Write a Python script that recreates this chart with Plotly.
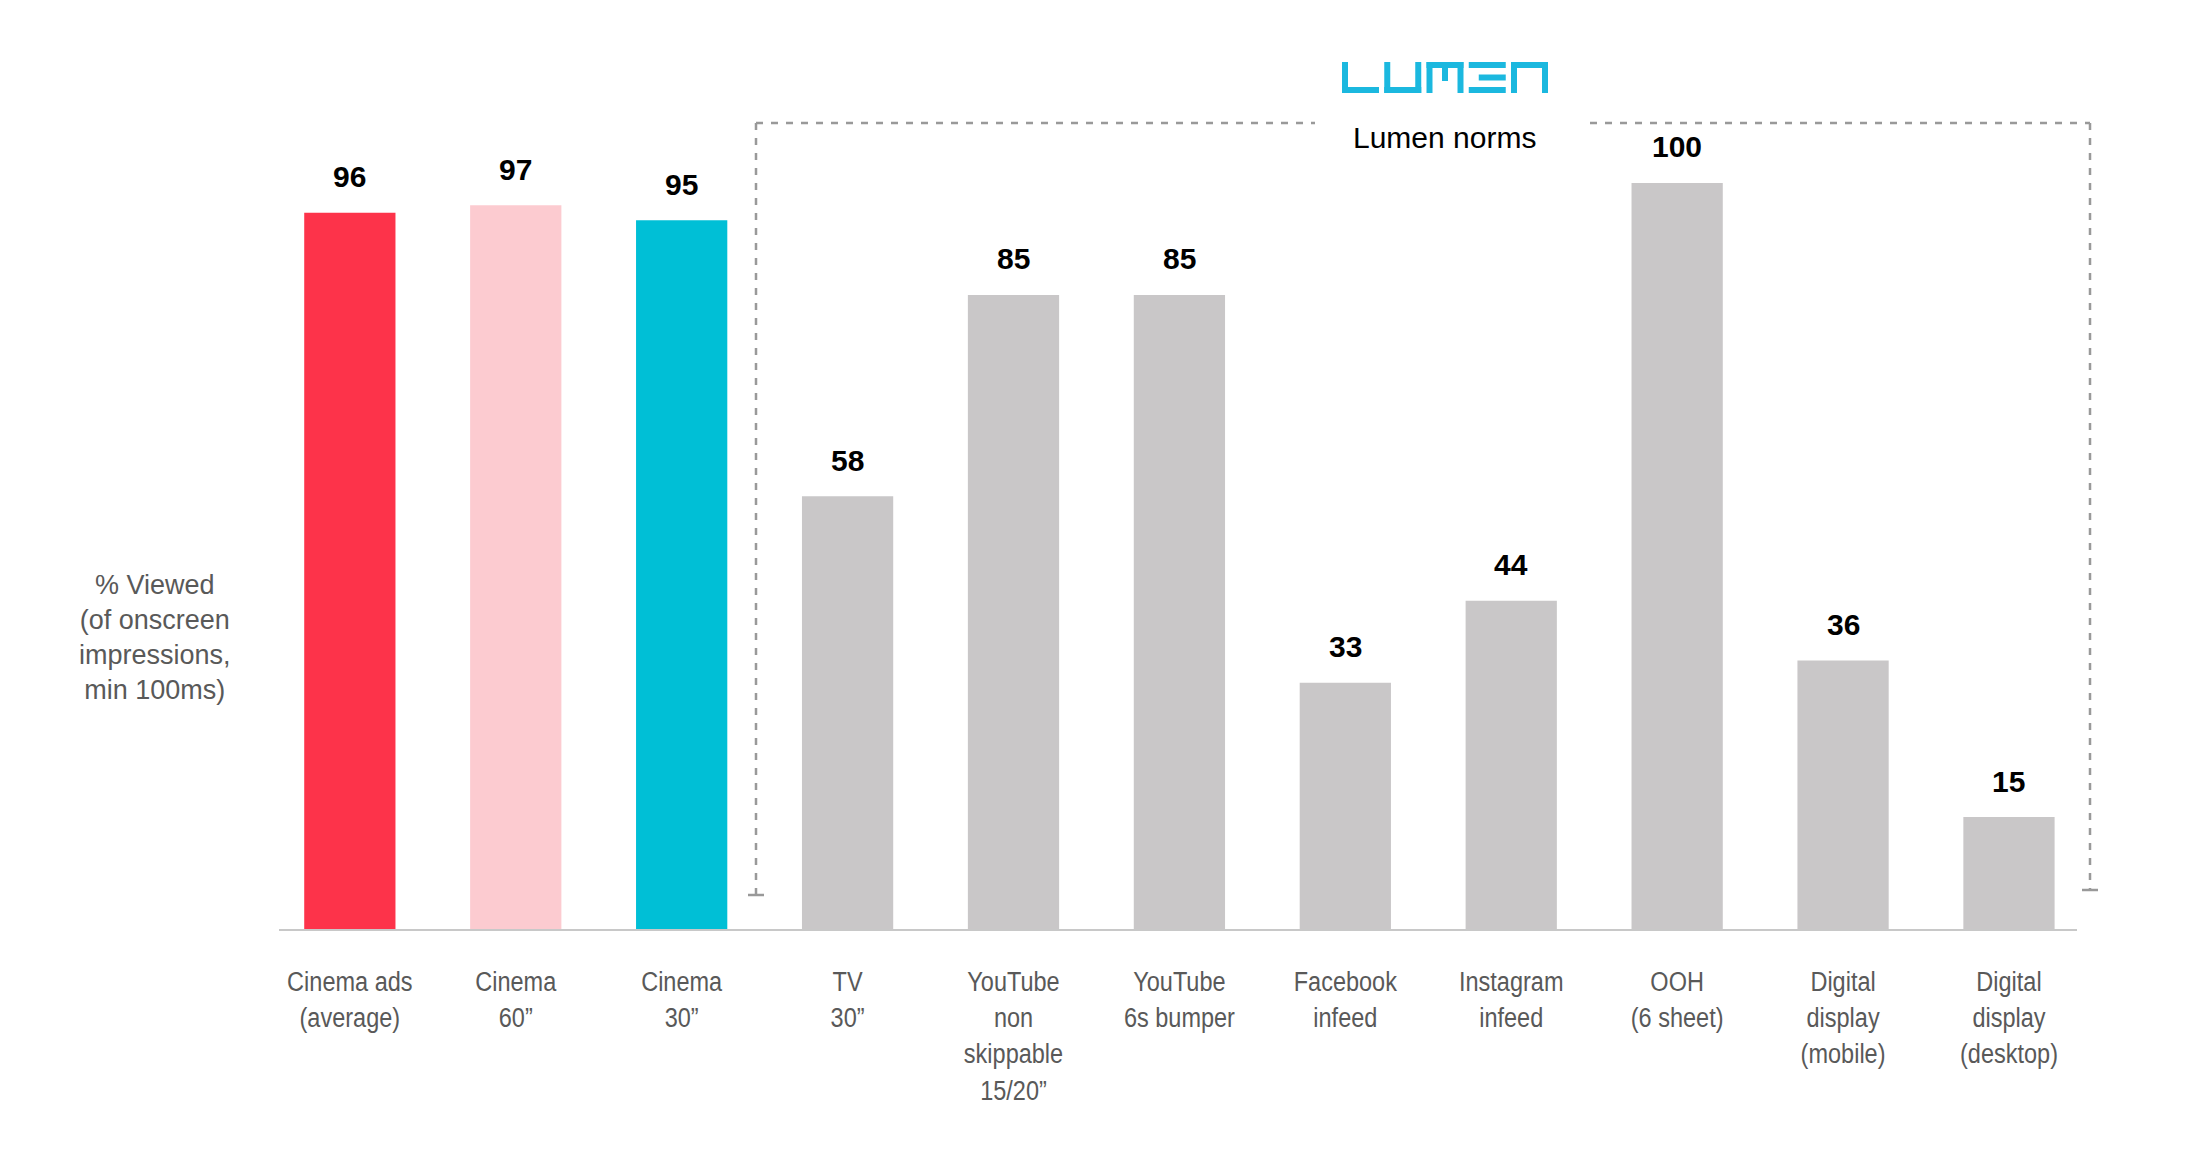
import plotly.graph_objects as go

# ---------------- data ----------------
categories = [
    "Cinema ads<br>(average)", "Cinema<br>60\u201d", "Cinema<br>30\u201d", "TV<br>30\u201d",
    "YouTube<br>non<br>skippable<br>15/20\u201d", "YouTube<br>6s bumper", "Facebook<br>infeed",
    "Instagram<br>infeed", "OOH<br>(6 sheet)", "Digital<br>display<br>(mobile)",
    "Digital<br>display<br>(desktop)",
]
values = [96, 97, 95, 58, 85, 85, 33, 44, 100, 36, 15]
bar_colors = ["#FD334A", "#FCCBD0", "#00BFD6"] + ["#C9C7C8"] * 8
y_title = "% Viewed<br>(of onscreen<br>impressions,<br>min 100ms)"
bracket_label = "Lumen norms"

# ---------------- geometry helpers (pixels -> paper) ----------------
W, H = 2204, 1160
L_PX, R_PX, T_PX, B_PX = 279, 2077, 108, 929


def px(x):
    return (x - L_PX) / (R_PX - L_PX)


def py(y):
    return (B_PX - y) / (B_PX - T_PX)


NARROW = "Liberation Sans Narrow, Arial Narrow, Liberation Sans, Arial, sans-serif"
REG = "Liberation Sans, Arial, sans-serif"

fig = go.Figure()
fig.add_trace(go.Bar(
    x=categories, y=values, marker=dict(color=bar_colors, line=dict(width=0)),
    width=0.55, hoverinfo="x+y", showlegend=False,
))

annotations = []
for c, v in zip(categories, values):
    annotations.append(dict(
        x=c, y=v, xref="x", yref="y", text=f"<b>{v}</b>", showarrow=False,
        yanchor="middle", yshift=36, font=dict(family=REG, size=30, color="#000000"),
    ))

annotations.append(dict(
    x=px(155), y=py(637), xref="paper", yref="paper", text=y_title, showarrow=False,
    xanchor="center", yanchor="middle", align="center",
    font=dict(family=REG, size=27, color="#595959"),
))
annotations.append(dict(
    x=px(1444), y=py(137), xref="paper", yref="paper", text=bracket_label, showarrow=False,
    xanchor="center", yanchor="middle", font=dict(family=REG, size=30, color="#000000"),
))

shapes = []
dash_line = dict(color="#999999", width=2.5, dash="7px,8px")
solid_line = dict(color="#999999", width=2.5)


def seg(x0, y0, x1, y1, line):
    shapes.append(dict(type="line", xref="paper", yref="paper",
                       x0=px(x0), y0=py(y0), x1=px(x1), y1=py(y1), line=line))


# bracket around Lumen norms
seg(756, 123, 1315, 123, dash_line)
seg(1590, 123, 2090, 123, dash_line)
seg(756, 123, 756, 895, dash_line)
seg(2090, 123, 2090, 890, dash_line)
seg(748, 895, 764, 895, solid_line)
seg(2082, 890, 2098, 890, solid_line)

# LUMEN logo drawn as strokes
logo_color = "#1BB8DF"
letters = {
    "L": [(0, 0, 6, 31), (0, 25, 37, 31)],
    "U": [(0, 0, 6, 31), (0, 25, 37, 31), (31, 0, 37, 31)],
    "M": [(0, 0, 37, 6), (0, 0, 6, 31), (31, 0, 37, 31), (15.5, 0, 21.5, 19)],
    "E": [(0, 0, 37, 6), (10, 12.5, 37, 18.5), (0, 25, 37, 31)],
    "N": [(0, 0, 37, 6), (0, 0, 6, 31), (31, 0, 37, 31)],
}
lx0, ly0 = 1342, 62
for i, ch in enumerate("LUMEN"):
    ox = lx0 + i * 42.25
    for (a, b, c, d) in letters[ch]:
        shapes.append(dict(type="rect", xref="paper", yref="paper",
                           x0=px(ox + a), x1=px(ox + c), y0=py(ly0 + b), y1=py(ly0 + d),
                           fillcolor=logo_color, line=dict(width=0), layer="above"))

fig.update_layout(
    width=W, height=H, autosize=False,
    margin=dict(l=L_PX, r=W - R_PX, t=T_PX, b=H - B_PX, pad=0),
    paper_bgcolor="white", plot_bgcolor="white",
    bargap=0.45,
    xaxis=dict(
        type="category", range=[-0.427, 10.41], showgrid=False, zeroline=False,
        showline=True, linecolor="#C8C8C8", linewidth=2, ticks="",
        tickfont=dict(family=NARROW, size=28, color="#595959"),
        ticklabelstandoff=26, fixedrange=True,
    ),
    yaxis=dict(range=[0, 110.05], visible=False, fixedrange=True),
    annotations=annotations,
    shapes=shapes,
)

post = """
document.body.style.margin = '0';
document.body.style.overflow = 'hidden';
var gd = document.getElementById('{plot_id}');
function squeezeTicks() {
  gd.querySelectorAll('.xtick text').forEach(function (t) {
    if (t.getAttribute('data-sq')) return;
    var x = parseFloat(t.getAttribute('x')) || 0;
    var tr = t.getAttribute('transform') || '';
    t.setAttribute('transform', tr + ' translate(' + x + ',0) scale(0.84,1) translate(' + (-x) + ',0)');
    t.setAttribute('data-sq', '1');
  });
}
squeezeTicks();
if (gd && gd.on) { gd.on('plotly_afterplot', squeezeTicks); }
"""

fig.write_html("out.html", post_script=post, config={"displayModeBar": False})
